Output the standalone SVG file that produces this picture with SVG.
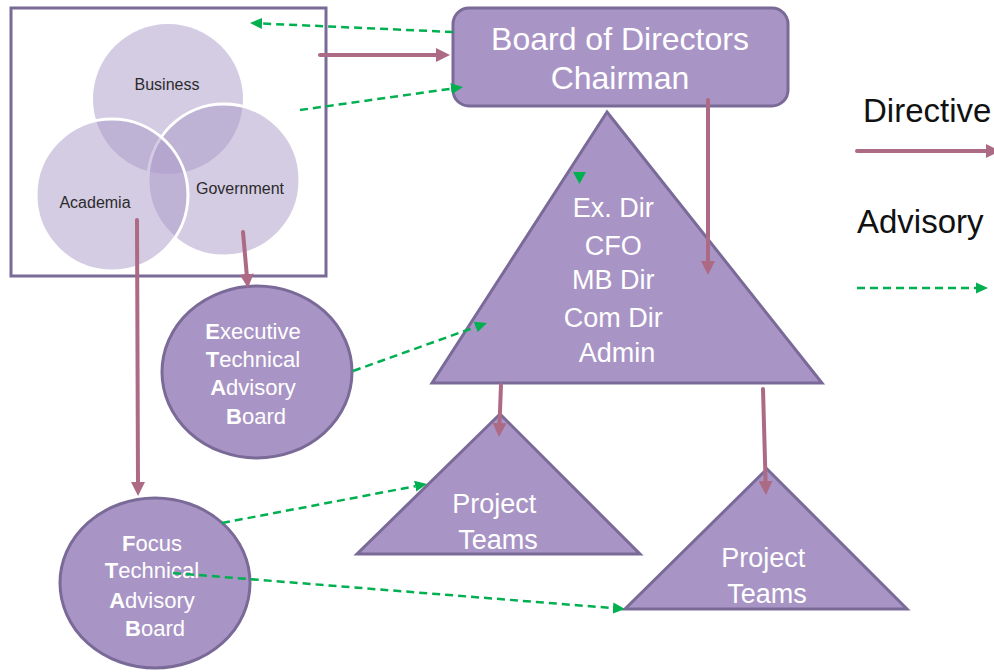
<svg xmlns="http://www.w3.org/2000/svg" width="994" height="672" viewBox="0 0 994 672">
<style>
.node{fill:#a995c5;stroke:#7a6a98;stroke-width:3}
.venn{fill:#a999c8;fill-opacity:0.5}
.vs{stroke:#ffffff;stroke-width:3}
.wt{font-family:"Liberation Sans",Arial,sans-serif;fill:#ffffff;text-anchor:middle}
.vt{font-family:"Liberation Sans",Arial,sans-serif;fill:#2b2b2b;font-size:16px;text-anchor:middle}
.lg{font-family:"Liberation Sans",Arial,sans-serif;fill:#111111;font-size:33px}
.dir{fill:none;stroke:#ad6a85;stroke-width:4;stroke-linecap:round;marker-end:url(#mdir)}
.adv{fill:none;stroke:#00b050;stroke-width:2.5;stroke-dasharray:8 5;marker-end:url(#madv)}
.b{font-weight:bold}
</style>
<defs>
<marker id="mdir" markerUnits="userSpaceOnUse" viewBox="0 0 14 14" markerWidth="14" markerHeight="14" refX="1" refY="7" orient="auto">
<path d="M0,0 L14,7 L0,14 Z" fill="#ad6a85"/>
</marker>
<marker id="madv" markerUnits="userSpaceOnUse" viewBox="0 0 12 12" markerWidth="12" markerHeight="12" refX="0" refY="6" orient="auto">
<path d="M0,0.5 L12,6 L0,11.5 Z" fill="#00b050"/>
</marker>
</defs>

<g id="stakeholders">
<rect x="11" y="8" width="315" height="268" fill="#ffffff" stroke="#7a6a98" stroke-width="3"/>
<circle class="venn" cx="168" cy="99" r="75"/>
<circle class="venn vs" cx="224" cy="180" r="76"/>
<circle class="venn vs" cx="112" cy="195" r="76"/>
<text class="vt" x="167" y="90">Business</text>
<text class="vt" x="95" y="208">Academia</text>
<text class="vt" x="240" y="194">Government</text>
</g>

<g id="board">
<rect class="node" x="453" y="8" width="335" height="98" rx="16"/>
<text class="wt" x="620" y="50" font-size="32">Board of Directors</text>
<text class="wt" x="620" y="89" font-size="32">Chairman</text>
</g>

<g id="executive">
<polygon class="node" points="607,112 822,383 432,383"/>
<text class="wt" font-size="27">
<tspan x="617" y="217">Ex. Dir</tspan>
<tspan x="617" y="255">CFO</tspan>
<tspan x="617" y="289">MB Dir</tspan>
<tspan x="617" y="327">Com Dir</tspan>
<tspan x="617" y="362">Admin</tspan>
</text>
</g>

<g id="etab">
<ellipse class="node" cx="257" cy="372" rx="95" ry="86"/>
<text class="wt" font-size="22">
<tspan x="256" y="339"><tspan class="b">E</tspan>xecutive</tspan>
<tspan x="256" y="367"><tspan class="b">T</tspan>echnical</tspan>
<tspan x="256" y="395"><tspan class="b">A</tspan>dvisory</tspan>
<tspan x="256" y="424"><tspan class="b">B</tspan>oard</tspan>
</text>
</g>

<g id="ftab">
<ellipse class="node" cx="155" cy="583" rx="95" ry="85"/>
<text class="wt" font-size="22">
<tspan x="155" y="551"><tspan class="b">F</tspan>ocus</tspan>
<tspan x="155" y="578"><tspan class="b">T</tspan>echnical</tspan>
<tspan x="155" y="608"><tspan class="b">A</tspan>dvisory</tspan>
<tspan x="155" y="636"><tspan class="b">B</tspan>oard</tspan>
</text>
</g>

<g id="project1">
<polygon class="node" points="500,414 640,554 357,554"/>
<text class="wt" font-size="27">
<tspan x="498" y="513">Project</tspan>
<tspan x="498" y="549">Teams</tspan>
</text>
</g>

<g id="project2">
<polygon class="node" points="767,469 907,609 625,609"/>
<text class="wt" font-size="27">
<tspan x="767" y="567">Project</tspan>
<tspan x="767" y="603">Teams</tspan>
</text>
</g>

<g id="legend">
<text class="lg" x="863" y="122">Directive</text>
<text class="lg" x="857" y="233">Advisory</text>
</g>

<g id="connectors">
<line class="dir" x1="320" y1="55" x2="437" y2="55"/>
<line class="dir" x1="708" y1="100" x2="708" y2="262"/>
<line class="dir" x1="501" y1="385" x2="499.5" y2="424"/>
<line class="dir" x1="763" y1="389" x2="765.6" y2="482"/>
<line class="dir" x1="243" y1="232" x2="246.8" y2="275"/>
<line class="dir" x1="137" y1="220" x2="138" y2="483"/>
<line class="dir" x1="857" y1="151" x2="987" y2="151"/>
<line class="adv" x1="453" y1="32" x2="262" y2="23.5"/>
<line class="adv" x1="300" y1="110" x2="451.1" y2="88.7"/>
<line class="adv" x1="353" y1="371" x2="475.7" y2="327"/>
<line class="adv" x1="222" y1="523" x2="415.2" y2="486.2"/>
<line class="adv" x1="173" y1="573" x2="613" y2="608.1"/>
<line class="adv" x1="857" y1="288" x2="976" y2="288"/>
<polygon points="573,172 586,172 579.5,184" fill="#00b050"/>
</g>
</svg>
